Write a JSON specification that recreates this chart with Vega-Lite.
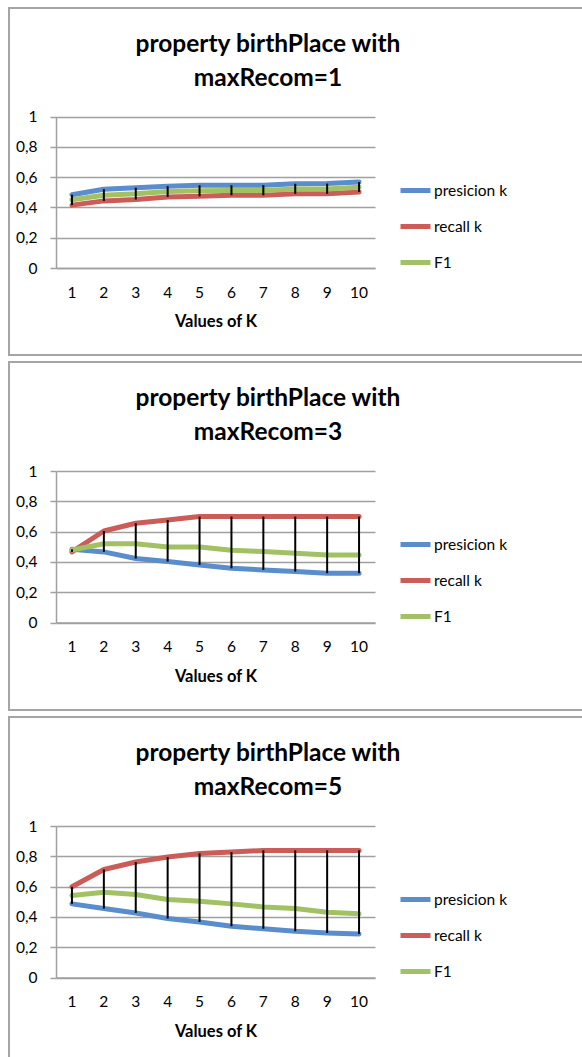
{
  "$schema": "https://vega.github.io/schema/vega-lite/v6.json",
  "padding": {"left": 8, "top": 7, "right": 0, "bottom": 0},
  "background": "white",
  "spacing": 5,
  "datasets": {
    "d": [
      {"p": 1, "k": 1, "s": "presicion k", "v": 0.484},
      {"p": 1, "k": 2, "s": "presicion k", "v": 0.52},
      {"p": 1, "k": 3, "s": "presicion k", "v": 0.53},
      {"p": 1, "k": 4, "s": "presicion k", "v": 0.54},
      {"p": 1, "k": 5, "s": "presicion k", "v": 0.546},
      {"p": 1, "k": 6, "s": "presicion k", "v": 0.546},
      {"p": 1, "k": 7, "s": "presicion k", "v": 0.547},
      {"p": 1, "k": 8, "s": "presicion k", "v": 0.556},
      {"p": 1, "k": 9, "s": "presicion k", "v": 0.557},
      {"p": 1, "k": 10, "s": "presicion k", "v": 0.567},
      {"p": 1, "k": 1, "s": "recall k", "v": 0.415},
      {"p": 1, "k": 2, "s": "recall k", "v": 0.443},
      {"p": 1, "k": 3, "s": "recall k", "v": 0.452},
      {"p": 1, "k": 4, "s": "recall k", "v": 0.469},
      {"p": 1, "k": 5, "s": "recall k", "v": 0.473},
      {"p": 1, "k": 6, "s": "recall k", "v": 0.48},
      {"p": 1, "k": 7, "s": "recall k", "v": 0.48},
      {"p": 1, "k": 8, "s": "recall k", "v": 0.49},
      {"p": 1, "k": 9, "s": "recall k", "v": 0.49},
      {"p": 1, "k": 10, "s": "recall k", "v": 0.502},
      {"p": 1, "k": 1, "s": "F1", "v": 0.45},
      {"p": 1, "k": 2, "s": "F1", "v": 0.48},
      {"p": 1, "k": 3, "s": "F1", "v": 0.49},
      {"p": 1, "k": 4, "s": "F1", "v": 0.505},
      {"p": 1, "k": 5, "s": "F1", "v": 0.51},
      {"p": 1, "k": 6, "s": "F1", "v": 0.512},
      {"p": 1, "k": 7, "s": "F1", "v": 0.512},
      {"p": 1, "k": 8, "s": "F1", "v": 0.522},
      {"p": 1, "k": 9, "s": "F1", "v": 0.522},
      {"p": 1, "k": 10, "s": "F1", "v": 0.533},
      {"p": 2, "k": 1, "s": "presicion k", "v": 0.483},
      {"p": 2, "k": 2, "s": "presicion k", "v": 0.466},
      {"p": 2, "k": 3, "s": "presicion k", "v": 0.422},
      {"p": 2, "k": 4, "s": "presicion k", "v": 0.402},
      {"p": 2, "k": 5, "s": "presicion k", "v": 0.38},
      {"p": 2, "k": 6, "s": "presicion k", "v": 0.358},
      {"p": 2, "k": 7, "s": "presicion k", "v": 0.347},
      {"p": 2, "k": 8, "s": "presicion k", "v": 0.336},
      {"p": 2, "k": 9, "s": "presicion k", "v": 0.325},
      {"p": 2, "k": 10, "s": "presicion k", "v": 0.325},
      {"p": 2, "k": 1, "s": "recall k", "v": 0.466},
      {"p": 2, "k": 2, "s": "recall k", "v": 0.604},
      {"p": 2, "k": 3, "s": "recall k", "v": 0.655},
      {"p": 2, "k": 4, "s": "recall k", "v": 0.677},
      {"p": 2, "k": 5, "s": "recall k", "v": 0.699},
      {"p": 2, "k": 6, "s": "recall k", "v": 0.699},
      {"p": 2, "k": 7, "s": "recall k", "v": 0.699},
      {"p": 2, "k": 8, "s": "recall k", "v": 0.699},
      {"p": 2, "k": 9, "s": "recall k", "v": 0.699},
      {"p": 2, "k": 10, "s": "recall k", "v": 0.699},
      {"p": 2, "k": 1, "s": "F1", "v": 0.479},
      {"p": 2, "k": 2, "s": "F1", "v": 0.52},
      {"p": 2, "k": 3, "s": "F1", "v": 0.52},
      {"p": 2, "k": 4, "s": "F1", "v": 0.499},
      {"p": 2, "k": 5, "s": "F1", "v": 0.499},
      {"p": 2, "k": 6, "s": "F1", "v": 0.477},
      {"p": 2, "k": 7, "s": "F1", "v": 0.468},
      {"p": 2, "k": 8, "s": "F1", "v": 0.457},
      {"p": 2, "k": 9, "s": "F1", "v": 0.446},
      {"p": 2, "k": 10, "s": "F1", "v": 0.446},
      {"p": 3, "k": 1, "s": "presicion k", "v": 0.486},
      {"p": 3, "k": 2, "s": "presicion k", "v": 0.455},
      {"p": 3, "k": 3, "s": "presicion k", "v": 0.426},
      {"p": 3, "k": 4, "s": "presicion k", "v": 0.389},
      {"p": 3, "k": 5, "s": "presicion k", "v": 0.367},
      {"p": 3, "k": 6, "s": "presicion k", "v": 0.338},
      {"p": 3, "k": 7, "s": "presicion k", "v": 0.322},
      {"p": 3, "k": 8, "s": "presicion k", "v": 0.305},
      {"p": 3, "k": 9, "s": "presicion k", "v": 0.294},
      {"p": 3, "k": 10, "s": "presicion k", "v": 0.287},
      {"p": 3, "k": 1, "s": "recall k", "v": 0.599},
      {"p": 3, "k": 2, "s": "recall k", "v": 0.713},
      {"p": 3, "k": 3, "s": "recall k", "v": 0.762},
      {"p": 3, "k": 4, "s": "recall k", "v": 0.795},
      {"p": 3, "k": 5, "s": "recall k", "v": 0.819},
      {"p": 3, "k": 6, "s": "recall k", "v": 0.828},
      {"p": 3, "k": 7, "s": "recall k", "v": 0.839},
      {"p": 3, "k": 8, "s": "recall k", "v": 0.839},
      {"p": 3, "k": 9, "s": "recall k", "v": 0.839},
      {"p": 3, "k": 10, "s": "recall k", "v": 0.839},
      {"p": 3, "k": 1, "s": "F1", "v": 0.541},
      {"p": 3, "k": 2, "s": "F1", "v": 0.563},
      {"p": 3, "k": 3, "s": "F1", "v": 0.548},
      {"p": 3, "k": 4, "s": "F1", "v": 0.515},
      {"p": 3, "k": 5, "s": "F1", "v": 0.503},
      {"p": 3, "k": 6, "s": "F1", "v": 0.486},
      {"p": 3, "k": 7, "s": "F1", "v": 0.466},
      {"p": 3, "k": 8, "s": "F1", "v": 0.455},
      {"p": 3, "k": 9, "s": "F1", "v": 0.43},
      {"p": 3, "k": 10, "s": "F1", "v": 0.42}
    ]
  },
  "vconcat": [
    {
      "width": 574, "height": 347,
      "data": {"name": "d"},
      "transform": [{"filter": "datum.p == 1"}],
      "title": {"text": ["property birthPlace with", "maxRecom=1"]},
      "layer": [
        {
          "mark": {"type": "line", "strokeWidth": 5, "strokeCap": "round", "strokeJoin": "round"},
          "encoding": {
            "x": {"field": "k", "type": "ordinal", "scale": {"range": [47, 366]},
                  "axis": {"title": "Values of K", "offset": -87}},
            "y": {"field": "v", "type": "quantitative", "scale": {"domain": [0, 1], "range": [260, 108.5]},
                  "axis": {"title": null, "offset": -47, "values": [0, 0.2, 0.4, 0.6, 0.8, 1]}},
            "color": {"field": "s", "type": "nominal",
                      "scale": {"domain": ["presicion k", "recall k", "F1"], "range": ["#5A8DCB", "#CB5C58", "#A2C165"]},
                      "legend": {"orient": "none", "legendX": 389, "legendY": 165}}
          }
        },
        {
          "transform": [{"aggregate": [{"op": "min", "field": "v", "as": "lo"}, {"op": "max", "field": "v", "as": "hi"}], "groupby": ["k"]}],
          "mark": {"type": "rule", "color": "black", "strokeWidth": 2},
          "encoding": {
            "x": {"field": "k", "type": "ordinal"},
            "y": {"field": "lo", "type": "quantitative"},
            "y2": {"field": "hi"}
          }
        }
      ]
    },
    {
      "width": 574, "height": 348,
      "data": {"name": "d"},
      "transform": [{"filter": "datum.p == 2"}],
      "title": {"text": ["property birthPlace with", "maxRecom=3"]},
      "layer": [
        {
          "mark": {"type": "line", "strokeWidth": 5, "strokeCap": "round", "strokeJoin": "round"},
          "encoding": {
            "x": {"field": "k", "type": "ordinal", "scale": {"range": [47, 366]},
                  "axis": {"title": "Values of K", "offset": -87.5}},
            "y": {"field": "v", "type": "quantitative", "scale": {"domain": [0, 1], "range": [260.5, 109]},
                  "axis": {"title": null, "offset": -47, "values": [0, 0.2, 0.4, 0.6, 0.8, 1]}},
            "color": {"field": "s", "type": "nominal",
                      "scale": {"domain": ["presicion k", "recall k", "F1"], "range": ["#5A8DCB", "#CB5C58", "#A2C165"]},
                      "legend": {"orient": "none", "legendX": 389, "legendY": 165}}
          }
        },
        {
          "transform": [{"aggregate": [{"op": "min", "field": "v", "as": "lo"}, {"op": "max", "field": "v", "as": "hi"}], "groupby": ["k"]}],
          "mark": {"type": "rule", "color": "black", "strokeWidth": 2},
          "encoding": {
            "x": {"field": "k", "type": "ordinal"},
            "y": {"field": "lo", "type": "quantitative"},
            "y2": {"field": "hi"}
          }
        }
      ]
    },
    {
      "width": 574, "height": 350,
      "data": {"name": "d"},
      "transform": [{"filter": "datum.p == 3"}],
      "title": {"text": ["property birthPlace with", "maxRecom=5"]},
      "layer": [
        {
          "mark": {"type": "line", "strokeWidth": 5, "strokeCap": "round", "strokeJoin": "round"},
          "encoding": {
            "x": {"field": "k", "type": "ordinal", "scale": {"range": [47, 366]},
                  "axis": {"title": "Values of K", "offset": -89.5}},
            "y": {"field": "v", "type": "quantitative", "scale": {"domain": [0, 1], "range": [260.5, 109]},
                  "axis": {"title": null, "offset": -47, "values": [0, 0.2, 0.4, 0.6, 0.8, 1]}},
            "color": {"field": "s", "type": "nominal",
                      "scale": {"domain": ["presicion k", "recall k", "F1"], "range": ["#5A8DCB", "#CB5C58", "#A2C165"]},
                      "legend": {"orient": "none", "legendX": 389, "legendY": 165}}
          }
        },
        {
          "transform": [{"aggregate": [{"op": "min", "field": "v", "as": "lo"}, {"op": "max", "field": "v", "as": "hi"}], "groupby": ["k"]}],
          "mark": {"type": "rule", "color": "black", "strokeWidth": 2},
          "encoding": {
            "x": {"field": "k", "type": "ordinal"},
            "y": {"field": "lo", "type": "quantitative"},
            "y2": {"field": "hi"}
          }
        }
      ]
    }
  ],
  "resolve": {"scale": {"color": "independent"}},
  "config": {
    "font": "Lato",
    "view": {"stroke": "#A5A5A5", "strokeWidth": 2},
    "title": {"font": "Lato", "fontSize": 24.5, "fontWeight": "bold", "color": "black", "anchor": "middle", "dx": -28, "offset": -83, "lineHeight": 34},
    "axis": {
      "labelFont": "Lato", "labelFontSize": 15.5, "labelColor": "black",
      "domainColor": "#A0A0A0", "domainWidth": 1.5, "gridColor": "#A0A0A0", "gridWidth": 1.5,
      "tickColor": "#A0A0A0", "tickWidth": 1.5,
      "titleFont": "Lato", "titleFontSize": 16.5, "titleFontWeight": "bold", "titleColor": "black"
    },
    "axisX": {"grid": false, "ticks": false, "labelAngle": 0, "labelPadding": 17, "titlePadding": 13},
    "axisY": {"grid": true, "tickSize": 6, "labelPadding": 13, "format": ".1~f", "labelExpr": "replace(datum.label, '.', ',')"},
    "legend": {"title": null, "padding": 0, "symbolType": "stroke", "symbolSize": 900, "symbolStrokeWidth": 5, "labelFont": "Lato", "labelFontSize": 15.5, "labelColor": "black", "labelOffset": 1, "rowPadding": 8}
  }
}
